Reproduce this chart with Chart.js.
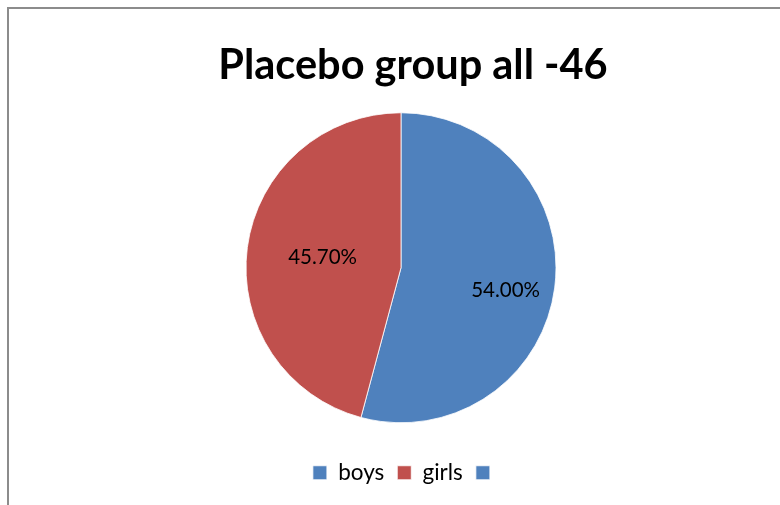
<!DOCTYPE html>
<html>
<head>
<meta charset="utf-8">
<script src="https://cdn.jsdelivr.net/npm/chart.js@4/dist/chart.umd.min.js"></script>
<style>
  html, body { margin: 0; padding: 0; background: #fff; overflow: hidden; }
  #wrap { position: relative; width: 780px; height: 505px; }
  #frame { position: absolute; left: 7px; top: 7px; width: 800px; height: 520px; border: 2px solid #8c8c8c; box-sizing: border-box; }
  canvas { position: absolute; left: 0; top: 0; }
</style>
</head>
<body>
<div id="wrap">
  <div id="frame"></div>
  <canvas id="pie" width="780" height="505"></canvas>
</div>
<script>
const chartTitle = 'Placebo group all -46';
const categories = ['boys', 'girls', ''];
const shares = [54.00, 45.70, 0];
const sliceColors = ['#4F81BD', '#C0504D', '#4F81BD'];

// title drawn by hand so it can sit a little right of the pie centre
const titlePlugin = {
    id: 'offsetTitle',
    afterDraw: function (chart, args, opts) {
        const ctx = chart.ctx;
        ctx.save();
        ctx.font = 'bold ' + opts.size + 'px ' + opts.family;
        ctx.fillStyle = '#000';
        ctx.textAlign = 'center';
        ctx.textBaseline = 'alphabetic';
        ctx.fillText(opts.text, opts.x, opts.y);
        ctx.restore();
    }
};

// the empty third legend entry leaves the row off-centre, push it right a bit
const legendNudge = {
    id: 'legendNudge',
    afterLayout: function (chart, args, opts) {
        if (chart.legend) {
            chart.legend.left += opts.shift;
            chart.legend.right += opts.shift;
        }
    }
};

// percentage labels placed along each slice's middle angle
const sliceLabels = {
    id: 'sliceLabels',
    afterDatasetsDraw: function (chart, args, opts) {
        const ctx = chart.ctx;
        const meta = chart.getDatasetMeta(0);
        ctx.save();
        ctx.font = opts.size + 'px ' + opts.family;
        ctx.fillStyle = '#000';
        ctx.textAlign = 'center';
        ctx.textBaseline = 'middle';
        meta.data.forEach(function (arc, i) {
            const v = shares[i];
            if (!v) return;
            const p = arc.getProps(['x', 'y', 'startAngle', 'endAngle', 'outerRadius'], true);
            const mid = (p.startAngle + p.endAngle) / 2 + (opts.angleShift[i] || 0);
            const r = p.outerRadius * opts.radius[i];
            ctx.fillText(v.toFixed(2) + '%', p.x + Math.cos(mid) * r, p.y + Math.sin(mid) * r);
        });
        ctx.restore();
    }
};

const ctx = document.getElementById('pie').getContext('2d');
const chart = new Chart(ctx, {
    type: 'pie',
    data: {
        labels: categories,
        datasets: [{
            data: shares,
            backgroundColor: sliceColors,
            borderColor: 'rgba(255,255,255,0.8)',
            borderWidth: 1,
            radius: 155
        }]
    },
    options: {
        responsive: false,
        animation: false,
        layout: {
            padding: { top: 87, left: 22, right: 0, bottom: 11 }
        },
        plugins: {
            title: { display: false },
            tooltip: { enabled: false },
            legend: {
                position: 'bottom',
                labels: {
                    boxWidth: 14,
                    boxHeight: 14,
                    padding: 13,
                    color: '#000',
                    font: { family: 'Lato', size: 22.5 }
                }
            },
            legendNudge: { shift: 6 },
            offsetTitle: { text: chartTitle, x: 413, y: 79, size: 41.5, family: 'Lato' },
            sliceLabels: { family: 'Lato', size: 20.5, radius: [0.69, 0.51], angleShift: [0.08, 0] }
        }
    },
    plugins: [titlePlugin, legendNudge, sliceLabels]
});
</script>
</body>
</html>
